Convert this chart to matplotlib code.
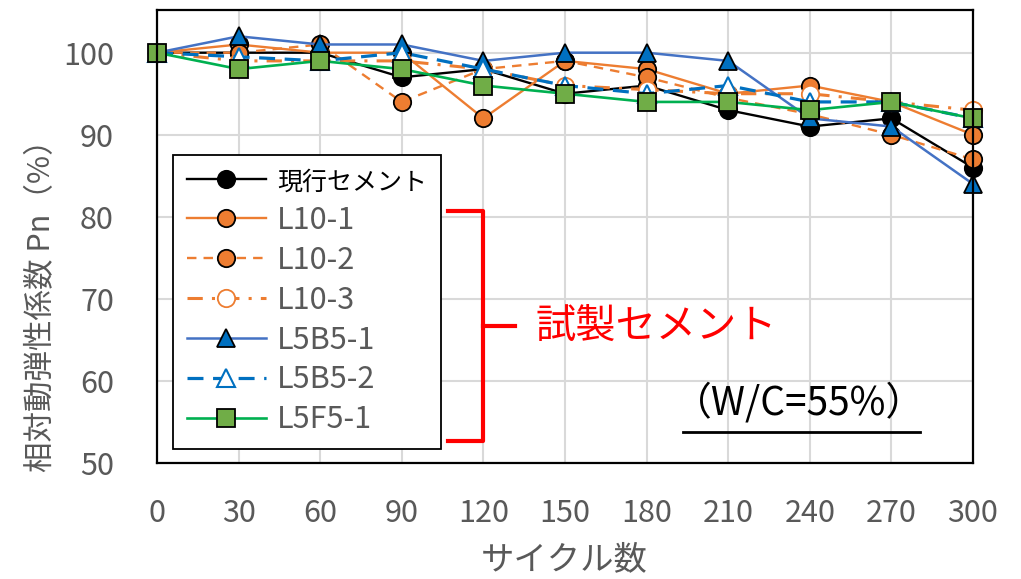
import numpy as np
import matplotlib.pyplot as plt

plt.rcParams['font.family'] = ['Noto Sans CJK JP', 'DejaVu Sans']

cycles = [0, 30, 60, 90, 120, 150, 180, 210, 240, 270, 300]
genko = [100, 100, 100, 97, 98, 95, 96, 93, 91, 92, 86]
l10_1 = [100, 101, 100, 100, 92, 99, 98, 95, 96, 94, 90]
l10_2 = [100, 100, 101, 94, 98, 99, 97, 94.5, 92.5, 90, 87]
l10_3 = [100, 99, 99, 99, 98, 96, 95.5, 95, 95, 94, 93]
l5b5_1 = [100, 102, 101, 101, 99, 100, 100, 99, 92, 91, 84]
l5b5_2 = [100, 99.5, 99, 100, 98, 96, 95, 96, 94, 94, 92]
l5f5_1 = [100, 98, 99, 98, 96, 95, 94, 94, 93, 94, 92]

gray = '#595959'
orange = '#ED7D31'

fig = plt.figure(figsize=(10.21, 5.79), dpi=100)
ax = fig.add_axes([0.1538, 0.2003, 0.7992, 0.7824])

ms = 12.5
kw = dict(markeredgecolor='black', markeredgewidth=1.3, markersize=ms, clip_on=False)
ax.plot(cycles, genko, color='black', lw=1.7, marker='o', markerfacecolor='black',
        label='現行セメント', **kw)
ax.plot(cycles, l10_1, color=orange, lw=1.7, marker='o', markerfacecolor=orange,
        label='L10-1', **kw)
ax.plot(cycles, l10_2, color=orange, lw=1.7, ls=(0, (4, 3)), marker='o',
        markerfacecolor=orange, label='L10-2', **kw)
ax.plot(cycles, l10_3, color=orange, lw=2.2, ls=(0, (5, 3, 1, 3)), marker='o',
        markerfacecolor='white', markeredgecolor=orange, markeredgewidth=1.3,
        markersize=ms, clip_on=False, label='L10-3')
ax.plot(cycles, l5b5_1, color='#4472C4', lw=1.8, marker='^', markerfacecolor='#0070C0',
        label='L5B5-1', **kw)
ax.plot(cycles, l5b5_2, color='#0070C0', lw=2.3, ls=(0, (5, 3)), marker='^',
        markerfacecolor='white', markeredgecolor='#0070C0', markeredgewidth=1.5,
        markersize=ms, clip_on=False, label='L5B5-2')
ax.plot(cycles, l5f5_1, color='#00B050', lw=1.9, marker='s', markerfacecolor='#70AD47',
        label='L5F5-1', **kw)

ax.set_xlim(0, 300)
ax.set_ylim(50, 105.2)
ax.set_xticks(cycles)
ax.set_yticks([50, 60, 70, 80, 90, 100])
ax.grid(True, color='#D9D9D9', lw=1.5)
ax.set_axisbelow(True)
ax.tick_params(length=0, labelsize=22, colors=gray)
ax.tick_params(axis='y', pad=31)
ax.tick_params(axis='x', pad=25)
for s in ax.spines.values():
    s.set_color('black')
    s.set_linewidth(1.6)

fig.text(0.041, 0.485, '相対動弾性係数 Pn（%）', rotation=90, ha='center', va='center',
         fontsize=22, color=gray)
fig.text(0.553, 0.033, 'サイクル数', ha='center', va='center', fontsize=24, color=gray)

leg = ax.legend(loc='upper left', bbox_to_anchor=(0.0196, 0.68), fontsize=22,
                frameon=True, fancybox=False, edgecolor='black', framealpha=1,
                handlelength=2.6, labelspacing=0.29, borderpad=0.45, handletextpad=0.35,
                borderaxespad=0)
leg.get_frame().set_linewidth(1.3)
for i, t in enumerate(leg.get_texts()):
    if i == 0:
        t.set_color('black')
        t.set_fontsize(18)
    else:
        t.set_color(gray)

# bracket for the trial cements
bx = [107, 120, 120, 107]
by = [80.7, 80.7, 52.7, 52.7]
ax.plot(bx, by, color='#FF0000', lw=3, clip_on=False)
ax.plot([120, 131.5], [66.7, 66.7], color='#FF0000', lw=3, clip_on=False)
ax.text(139, 66.7, '試製セメント', color='#FF0000', fontsize=29, va='center', ha='left')

ax.text(236, 57.3, '（W/C=55%）', color='black', fontsize=28, va='center', ha='center')
ax.plot([193.5, 280.5], [53.8, 53.8], color='black', lw=2)

fig.savefig('out.png', dpi=100)
